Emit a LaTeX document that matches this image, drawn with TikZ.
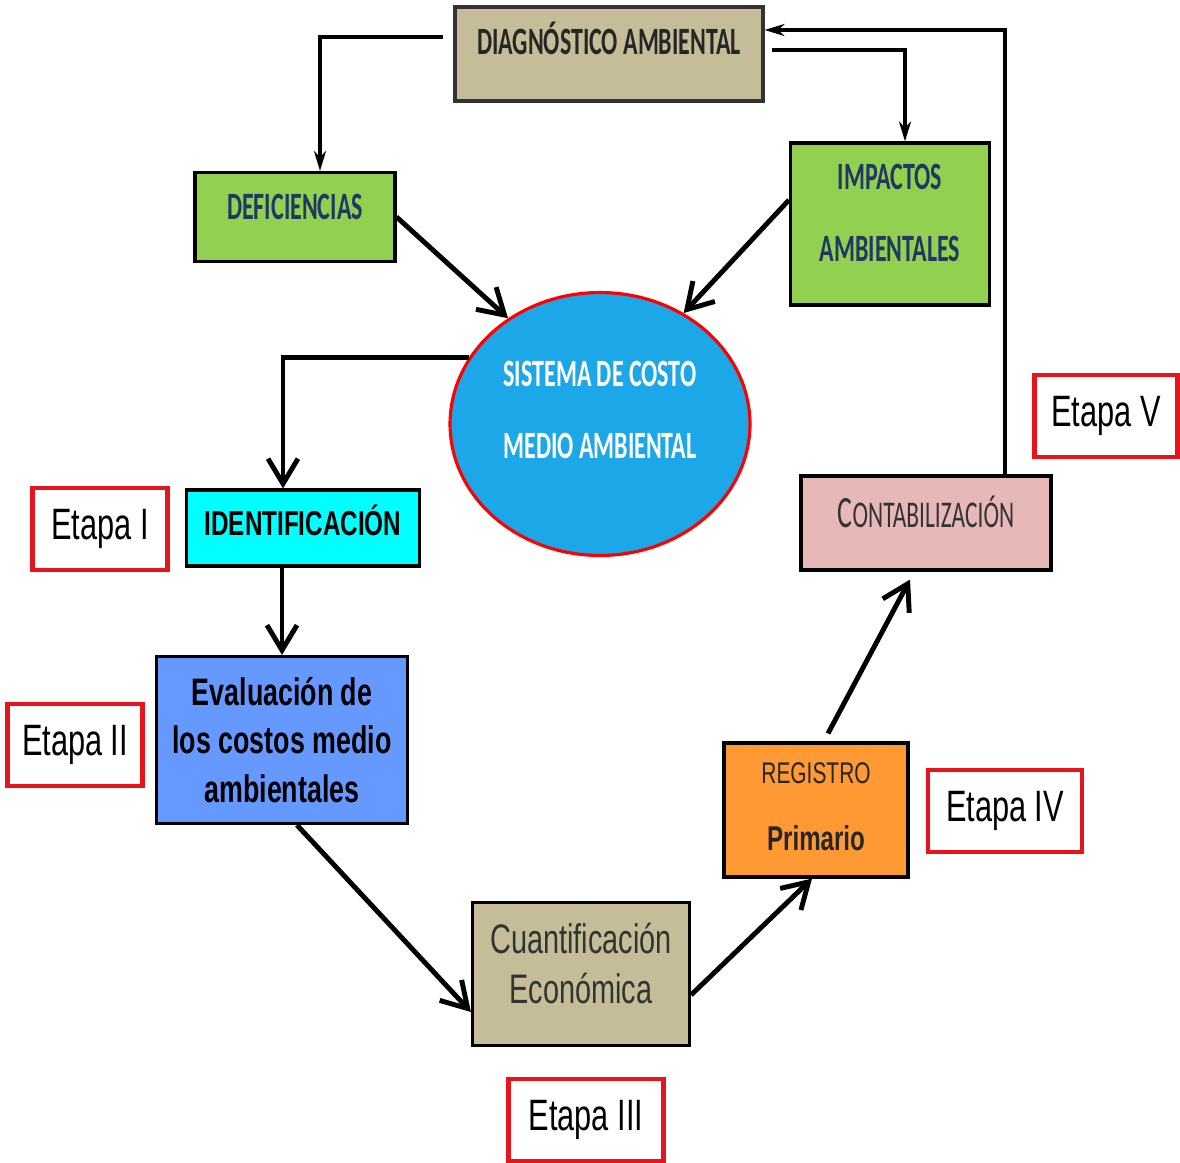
\documentclass[tikz,border=0pt]{standalone}
\usepackage{fontspec}
\setmainfont[FakeStretch=0.7]{Liberation Sans}
\newfontfamily\capfont[FakeStretch=0.62]{Carlito}
\usetikzlibrary{arrows.meta,shapes.geometric}

\definecolor{tan}{HTML}{C4BD97}
\definecolor{leaf}{HTML}{92D050}
\definecolor{sky}{HTML}{1BA7E8}
\definecolor{aqua}{HTML}{00FFFF}
\definecolor{lavblue}{HTML}{6699FF}
\definecolor{orng}{HTML}{FF9933}
\definecolor{rose}{HTML}{E6B9B8}
\definecolor{etred}{HTML}{E8141C}
\definecolor{navy}{HTML}{1F3864}

\begin{document}
\begin{tikzpicture}[x=0.02cm, y=-0.02cm,
    box/.style={rectangle, draw=black, line width=1.8pt, inner sep=0pt, align=center},
    etapa/.style={rectangle, draw=etred, line width=2.4pt, fill=white, inner sep=0pt,
        minimum height=1.63cm, font=\fontsize{25}{30}\selectfont},
    flow/.style={line width=2.8pt, -{Straight Barb[length=0.5cm,width=0.6cm]}},
    feed/.style={line width=2pt, -{Stealth[length=0.4cm,width=0.24cm]}}]
    \useasboundingbox (0,0) rectangle (1180,1163);

    % top of the cycle
    \node[box, draw=black!80, fill=tan, minimum width=6.16cm, minimum height=1.88cm, text height=0.5cm, text depth=0.48cm,
        font=\capfont\bfseries\fontsize{22}{26}\selectfont, text=black!85] (diag) at (609,54) {DIAGNÓSTICO AMBIENTAL};
    \node[box, fill=leaf, minimum width=4.0cm, minimum height=1.78cm, text height=0.5cm, text depth=0.4cm,
        font=\capfont\bfseries\fontsize{22}{26}\selectfont, text=navy] (defic) at (295,217) {DEFICIENCIAS};
    \node[box, fill=leaf, minimum width=3.98cm, minimum height=3.24cm, text height=1.94cm, text depth=0.44cm,
        font=\capfont\bfseries\fontsize{22}{41}\selectfont, text=navy] (impact) at (890,224) {IMPACTOS\\AMBIENTALES};
    \node[ellipse, draw=red, line width=1.8pt, fill=sky, inner sep=0pt, align=center, minimum width=6.0cm, minimum height=5.26cm,
        text height=1.94cm, text depth=0.56cm, font=\capfont\bfseries\fontsize{22}{41}\selectfont, text=white] (sys) at (600,424) {SISTEMA DE COSTO\\MEDIO AMBIENTAL};

    % stages
    \node[box, fill=aqua, minimum width=4.66cm, minimum height=1.52cm, text height=0.5cm, text depth=0.2cm,
        font=\bfseries\fontsize{19.7}{24}\selectfont] (ident) at (303,528) {IDENTIFICACIÓN};
    \node[box, fill=lavblue, minimum width=5.02cm, minimum height=3.34cm,
        font=\bfseries\fontsize{21.8}{27.8}\selectfont] (eval) at (282,740) {Evaluación de\\los costos medio\\ambientales};
    \node[box, fill=tan, minimum width=4.34cm, minimum height=2.86cm, text height=1.52cm, text depth=0.36cm,
        font=\fontsize{23.5}{28.4}\selectfont, text=black!80] (cuant) at (581,974) {Cuantificación\\Económica};
    \node[box, fill=orng, minimum width=3.68cm, minimum height=2.68cm, text height=1.77cm, text depth=0.14cm,
        font=\fontsize{17}{38}\selectfont, text=black!85] (regis) at (816,810) {REGISTRO\\{\bfseries\fontsize{19.6}{38}\selectfont Primario}};
    \node[box, fill=rose, minimum width=5.0cm, minimum height=1.88cm, text height=0.56cm, text depth=0.4cm,
        font=\capfont, text=black!80] (contab) at (926,523) {{\fontsize{25.5}{28}\selectfont C}{\fontsize{21.5}{28}\selectfont ONTABILIZACIÓN}};

    % stage labels
    \node[etapa, minimum width=2.7cm] (et1) at (100,529) {Etapa I};
    \node[etapa, minimum width=2.7cm] (et2) at (75,745) {Etapa II};
    \node[etapa, minimum width=3.1cm] (et3) at (586,1120) {Etapa III};
    \node[etapa, minimum width=3.08cm] (et4) at (1005,811) {Etapa IV};
    \node[etapa, minimum width=2.86cm] (et5) at (1106,416) {Etapa V};

    % connectors
    \draw[feed] ([xshift=-0.2cm,yshift=0.34cm]diag.west) -| ([xshift=0.5cm]defic.north);
    \draw[feed] ([xshift=0.14cm,yshift=0.08cm]diag.east) -| ([xshift=0.3cm]impact.north);
    \draw[feed] ([xshift=1.58cm]contab.north) |- ([yshift=0.48cm]diag.east);

    \path[flow] (defic.east) edge (sys.131);
    \path[flow] ([yshift=0.48cm]impact.west) edge (sys.53);
    \draw[flow] (sys.153) -| ([xshift=-0.4cm]ident.north);
    \path[flow] (ident.south -| eval.north) edge (eval.north);
    \path[flow] ([xshift=0.3cm]eval.south) edge ([yshift=-0.76cm]cuant.west);
    \path[flow] ([yshift=-0.42cm]cuant.east) edge ([xshift=-0.08cm]regis.south);
    \path[flow] ([xshift=0.24cm,yshift=0.16cm]regis.north) edge ([xshift=-0.32cm,yshift=-0.16cm]contab.south);

\end{tikzpicture}
\end{document}
